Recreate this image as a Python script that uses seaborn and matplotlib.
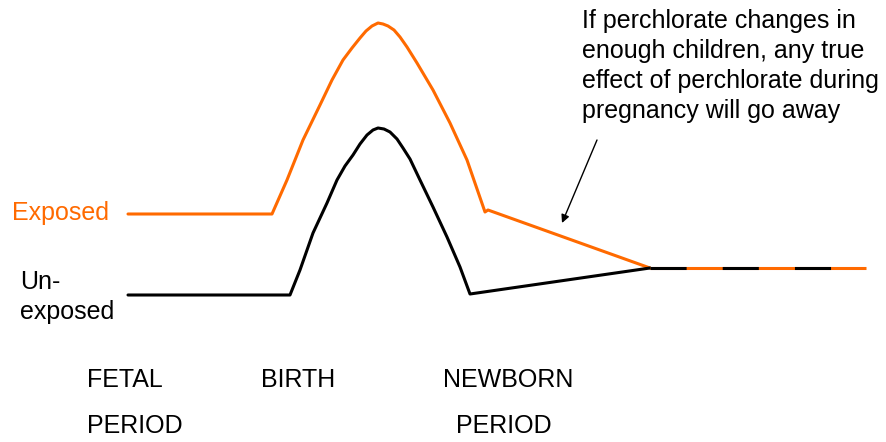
"""
Conceptual sketch: exposed vs unexposed trajectory from fetal period to newborn period.
Writes: out.png
"""
import matplotlib.pyplot as plt
import pandas as pd
import seaborn as sns

ORANGE = "#FF6A00"
BLACK = "#000000"

# curves (x = time axis, y = level, screen-down units)
EXPOSED_X = [128, 272, 287, 303, 320, 332, 343, 352, 360, 366, 372, 378, 383,
             388, 394, 400, 407, 417, 433, 450, 467, 485, 488, 650]
EXPOSED_Y = [214, 214, 180, 140, 105, 80, 60, 48, 38, 31, 26, 23, 24,
             26, 30, 37, 47, 63, 90, 123, 160, 212, 210, 268]

UNEXPOSED_X = [128, 290, 300, 313, 327, 337, 345, 353, 360, 367, 373, 378, 384,
               390, 397, 403, 410, 420, 433, 447, 460, 470, 650]
UNEXPOSED_Y = [295, 295, 270, 233, 203, 180, 166, 155, 144, 135, 130, 128, 129,
               132, 139, 148, 159, 180, 207, 237, 267, 294, 268]

# both groups end up at the same level
TAIL_X = [650, 866]
TAIL_Y = [268, 268]

PERIOD_TOP = ["FETAL", "BIRTH", "NEWBORN"]
PERIOD_BOTTOM = ["PERIOD", "", "PERIOD"]
NOTE = ("If perchlorate changes in\nenough children, any true\n"
        "effect of perchlorate during\npregnancy will go away")

sns.set_theme(style="white")
plt.rcParams["font.family"] = ["Liberation Sans", "DejaVu Sans"]
plt.rcParams["text.color"] = BLACK
plt.rcParams["lines.scale_dashes"] = False

FS = 18.0
LW = 2.2


def main():
    fig = plt.figure(figsize=(8.86, 4.42), dpi=100)
    ax = fig.add_axes([0, 0, 1, 1])

    exposed = pd.DataFrame({"x": EXPOSED_X, "y": EXPOSED_Y})
    unexposed = pd.DataFrame({"x": UNEXPOSED_X, "y": UNEXPOSED_Y})
    tail = pd.DataFrame({"x": TAIL_X, "y": TAIL_Y})

    sns.lineplot(data=exposed, x="x", y="y", sort=False, color=ORANGE,
                 lw=LW, ax=ax, solid_joinstyle="round")
    sns.lineplot(data=unexposed, x="x", y="y", sort=False, color=BLACK,
                 lw=LW, ax=ax, solid_joinstyle="round")
    # converged part: orange underneath, black dashes on top
    sns.lineplot(data=tail, x="x", y="y", sort=False, color=ORANGE,
                 lw=LW, ax=ax, solid_capstyle="butt")
    sns.lineplot(data=tail, x="x", y="y", sort=False, color=BLACK,
                 lw=LW, ax=ax, linestyle=(0, (26, 26)),
                 dash_capstyle="butt")

    ax.set_xlim(0, 886)
    ax.set_ylim(442, 0)
    ax.set_axis_off()

    ax.text(12, 220, "Exposed", color=ORANGE, fontsize=FS, va="baseline")
    ax.text(20, 270, "Un-\nexposed", fontsize=FS, va="top", linespacing=1.3)

    ax.text(87, 387, PERIOD_TOP[0], fontsize=FS, va="baseline")
    ax.text(87, 433, PERIOD_BOTTOM[0], fontsize=FS, va="baseline")
    ax.text(261, 387, PERIOD_TOP[1], fontsize=FS, va="baseline")
    ax.text(508, 387, PERIOD_TOP[2], fontsize=FS, va="baseline", ha="center")
    ax.text(504, 433, PERIOD_BOTTOM[2], fontsize=FS, va="baseline", ha="center")

    ax.text(582, 9, NOTE, fontsize=FS, va="top", linespacing=1.32)
    ax.annotate("", xy=(562, 223), xytext=(597, 140),
                arrowprops=dict(arrowstyle="-|>", color=BLACK, lw=1.0,
                                mutation_scale=12, shrinkA=0, shrinkB=0))

    fig.savefig("out.png", dpi=100)
    plt.close(fig)


if __name__ == "__main__":
    main()
